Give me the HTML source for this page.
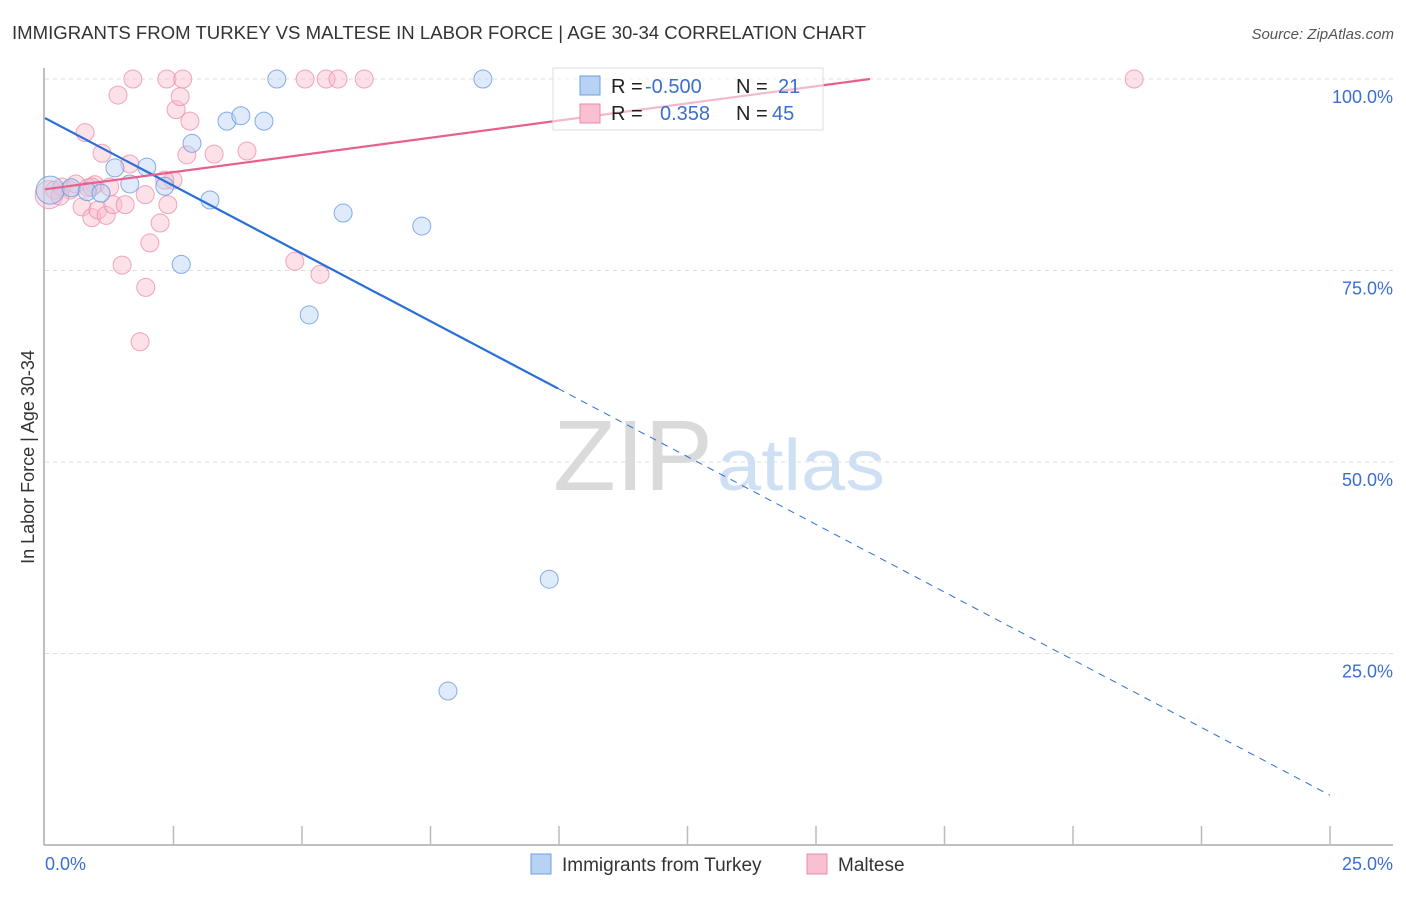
<!DOCTYPE html>
<html><head><meta charset="utf-8"><style>
body{margin:0;background:#fff;font-family:"Liberation Sans",sans-serif;}
svg text{font-family:"Liberation Sans",sans-serif;}
</style></head><body>
<svg id="chart" width="1406" height="892" xmlns="http://www.w3.org/2000/svg">
<text x="12" y="39" font-size="18" fill="#333" textLength="854" lengthAdjust="spacingAndGlyphs">IMMIGRANTS FROM TURKEY VS MALTESE IN LABOR FORCE | AGE 30-34 CORRELATION CHART</text>
<text x="1394" y="39" font-size="15" fill="#555" font-style="italic" text-anchor="end">Source: ZipAtlas.com</text>
<text x="34" y="457" font-size="18" fill="#333" text-anchor="middle" transform="rotate(-90 34 457)">In Labor Force | Age 30-34</text>
<g id="grid"></g>
<g>
<text x="553" y="490" font-size="100" fill="#dadada" font-family="Liberation Serif,serif" textLength="160" lengthAdjust="spacingAndGlyphs">ZIP</text>
<text x="717" y="490" font-size="72" fill="#cfe0f5" textLength="168" lengthAdjust="spacingAndGlyphs">atlas</text>
</g>
<g id="axes"></g>
<g id="marks"></g>
<g id="lines"></g>
<g>
<rect x="553" y="68" width="270" height="62" fill="#fff" fill-opacity="0.55" stroke="#ddd"/>
<rect x="580" y="76" width="20" height="19" fill="#b8d2f4" stroke="#6d9ee0"/>
<rect x="580" y="104" width="20" height="19" fill="#f8c0d0" stroke="#ec8aa8"/>
<text x="611" y="93" font-size="20" fill="#222">R = <tspan fill="#3a6fd0" x="645">-0.500</tspan></text>
<text x="736" y="93" font-size="20" fill="#222">N = <tspan fill="#3a6fd0" x="778">21</tspan></text>
<text x="611" y="120" font-size="20" fill="#222">R = <tspan fill="#3a6fd0" x="660">0.358</tspan></text>
<text x="736" y="120" font-size="20" fill="#222">N = <tspan fill="#3a6fd0" x="772">45</tspan></text>
</g>
<g>
<rect x="531" y="854" width="20" height="20" fill="#b8d2f4" stroke="#6d9ee0"/>
<text x="562" y="871" font-size="19" fill="#333">Immigrants from Turkey</text>
<rect x="807" y="854" width="20" height="20" fill="#f8c0d0" stroke="#ec8aa8"/>
<text x="838" y="871" font-size="19" fill="#333">Maltese</text>
</g>
</svg>
<script>
const yTicks=[100,75,50,25];
const yTickLabels=["100.0%","75.0%","50.0%","25.0%"];
const xTickLabels=["0.0%","25.0%"];
const turkeyX=[0.10,0.51,0.82,1.09,1.36,1.65,1.98,2.33,2.86,3.21,2.65,3.54,3.81,4.26,4.51,5.14,5.80,7.33,8.52,9.81,7.84];
const turkeyY=[85.5,85.8,85.3,85.1,88.4,86.3,88.5,86.0,91.6,84.2,75.8,94.5,95.2,94.5,100,69.2,82.5,80.8,100,34.7,20.1];
const malteseX=[0.08,0.19,0.33,0.49,0.60,0.72,0.78,0.91,0.97,1.03,1.11,1.19,1.26,1.32,1.42,1.50,1.56,1.65,1.71,1.95,2.04,1.96,1.85,2.24,2.37,2.39,2.49,2.55,2.63,2.68,2.76,2.82,3.29,3.93,4.86,5.06,5.35,5.47,5.70,6.21,21.19,0.84,0.29,2.33,0.91];
const malteseY=[84.9,85.5,85.9,85.5,86.3,83.3,93.0,81.9,86.2,82.9,90.3,82.2,85.9,83.6,97.9,75.7,83.6,88.9,100,84.9,78.6,72.8,65.7,81.2,100,83.6,86.8,96.0,97.7,100,90.1,94.5,90.2,90.6,76.2,100,74.5,100,100,100,100,85.8,84.7,86.8,85.9];
const turkeyTrend=[0,94.9,9.98,59.6,25,6.5];
const malteseTrend=[0,85.6,16.05,100];
const NS="http://www.w3.org/2000/svg";
const sx=v=>45+v/25*1285;
const sy=v=>845-v/100*766;
function mk(tag,attrs,parent){const e=document.createElementNS(NS,tag);for(const k in attrs)e.setAttribute(k,attrs[k]);parent.appendChild(e);return e;}
const grid=document.getElementById('grid'),axes=document.getElementById('axes'),marks=document.getElementById('marks'),lines=document.getElementById('lines');
yTicks.forEach((t,i)=>{
 const l=mk('line',{x1:45,x2:1393,y1:sy(t),y2:sy(t),stroke:'#ddd','stroke-dasharray':'4,4'},grid);
 
 
 const tx=mk('text',{x:1393,y:sy(t)+24,'font-size':18,fill:'#3a6fd0','text-anchor':'end'},axes);
 tx.textContent=yTickLabels[i];
 
 
});
let a=mk('line',{x1:44,x2:44,y1:68,y2:845,stroke:'#aaa','stroke-width':1.5},axes);


a=mk('line',{x1:44,x2:1393,y1:845,y2:845,stroke:'#aaa','stroke-width':1.5},axes);


for(let i=1;i<=10;i++){
 const t=mk('line',{x1:sx(i*2.5),x2:sx(i*2.5),y1:826,y2:845,stroke:'#bbb','stroke-width':1.5},axes);
 
 
}
[[0,'start',45],[25,'end',1393]].forEach((d,i)=>{
 const t=mk('text',{x:d[2],y:870,'font-size':18,fill:'#3a6fd0','text-anchor':d[1]},axes);
 t.textContent=xTickLabels[i];
 
 
});
function pts(xs,ys,fill,stroke,name){
 xs.forEach((x,i)=>{
  const c=mk('circle',{cx:sx(x),cy:sy(ys[i]),r:i===0?14:9,fill:fill,'fill-opacity':0.45,stroke:stroke,'stroke-opacity':0.75,'stroke-width':1},marks);
  
  
 });
}
pts(malteseX,malteseY,'#f8bccd','#ec8aa8','maltese-point');
pts(turkeyX,turkeyY,'#b8d2f4','#5f93de','turkey-point');
let ln=mk('line',{x1:sx(turkeyTrend[0]),y1:sy(turkeyTrend[1]),x2:sx(turkeyTrend[2]),y2:sy(turkeyTrend[3]),stroke:'#2a6ed8','stroke-width':2.2},lines);


ln=mk('line',{x1:sx(turkeyTrend[2]),y1:sy(turkeyTrend[3]),x2:sx(turkeyTrend[4]),y2:sy(turkeyTrend[5]),stroke:'#2a6ed8','stroke-width':1,'stroke-dasharray':'7,6'},lines);


ln=mk('line',{x1:sx(malteseTrend[0]),y1:sy(malteseTrend[1]),x2:sx(malteseTrend[2]),y2:sy(malteseTrend[3]),stroke:'#e8608c','stroke-width':2.2},lines);


</script>
</body></html>
